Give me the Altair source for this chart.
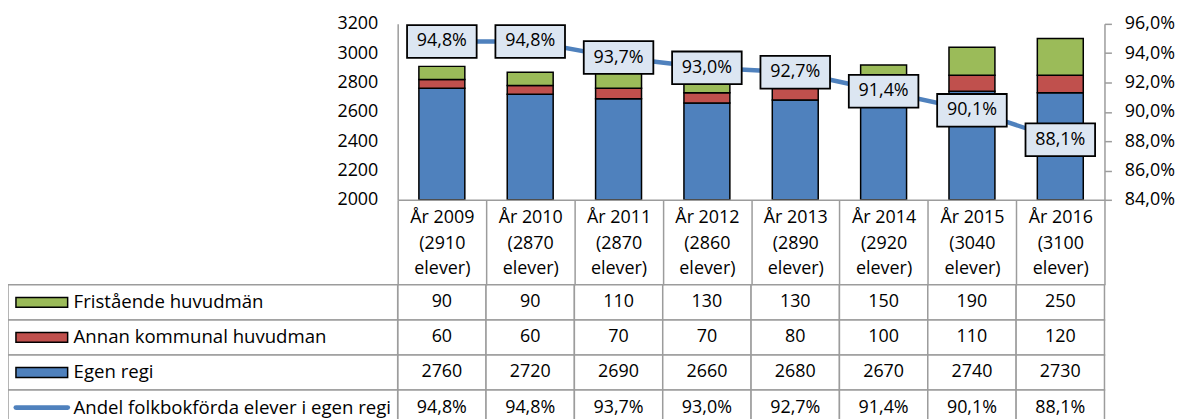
import altair as alt
import pandas as pd

# ---------------- data ----------------
years = ["År 2009", "År 2010", "År 2011", "År 2012", "År 2013", "År 2014", "År 2015", "År 2016"]
fristaende = [90, 90, 110, 130, 130, 150, 190, 250]
annan = [60, 60, 70, 70, 80, 100, 110, 120]
egen = [2760, 2720, 2690, 2660, 2680, 2670, 2740, 2730]
andel = [94.8, 94.8, 93.7, 93.0, 92.7, 91.4, 90.1, 88.1]

NAME_FRI = "Fristående huvudmän"
NAME_ANN = "Annan kommunal huvudman"
NAME_EGEN = "Egen regi"
NAME_ANDEL = "Andel folkbokförda elever i egen regi"
rows = [NAME_FRI, NAME_ANN, NAME_EGEN, NAME_ANDEL]

left_ticks = [2000, 2200, 2400, 2600, 2800, 3000, 3200]
right_ticks = [84, 86, 88, 90, 92, 94, 96]

# ---------------- styles ----------------
FONT = "Open Sans"
FS = 18
FS_LEG = 18.7
GRID = "#9C9C9C"
GREEN = "#9BBB59"
RED = "#C0504D"
BLUE = "#4F81BD"
LINEBLUE = "#4F81BD"
BOXFILL = "#DCE6F2"

W, H = 711, 177
HEADER_H = 85.5
ROW_H = 35.3
table_top = H + HEADER_H
table_bottom = table_top + 4 * ROW_H

totals = [f + a + e for f, a, e in zip(fristaende, annan, egen)]
cats = [f"{y}|({t}|elever)" for y, t in zip(years, totals)]


def pct_txt(v):
    return f"{v:.1f}".replace(".", ",") + "%"


bar_records = []
for i, c in enumerate(cats):
    for name, vals, o in [(NAME_EGEN, egen, 0), (NAME_ANN, annan, 1), (NAME_FRI, fristaende, 2)]:
        bar_records.append({"cat": c, "series": name, "value": vals[i], "ord": o})
bar_df = pd.DataFrame(bar_records)

line_df = pd.DataFrame({"cat": cats, "pct": andel, "label": [pct_txt(v) for v in andel]})

table_records = []
for i, c in enumerate(cats):
    for name, vals in [(NAME_FRI, fristaende), (NAME_ANN, annan), (NAME_EGEN, egen)]:
        table_records.append({"cat": c, "series": name, "text": str(vals[i])})
    table_records.append({"cat": c, "series": NAME_ANDEL, "text": pct_txt(andel[i])})
table_df = pd.DataFrame(table_records)
legend_df = pd.DataFrame({"series": rows})

# ---------------- encodings ----------------
x_axis = alt.Axis(
    title=None,
    labelExpr="split(datum.label, '|')",
    labelAngle=0,
    labelFontSize=FS,
    labelColor="black",
    labelLineHeight=26,
    labelBaseline="middle",
    labelOverlap=False,
    ticks=True,
    tickBand="extent",
    tickSize=HEADER_H,
    tickColor=GRID,
    tickWidth=1.5,
    labelPadding=17.5 - HEADER_H,
    domainColor=GRID,
    domainWidth=1.5,
)
X = alt.X("cat:N", sort=cats, scale=alt.Scale(domain=cats, paddingInner=0, paddingOuter=0), axis=x_axis)

y_left = alt.Y(
    "value:Q",
    stack="zero",
    scale=alt.Scale(domain=[2000, 3200], clamp=True, nice=False, zero=False),
    axis=alt.Axis(orient="left", title=None, values=left_ticks, format="d", ticks=False,
                  labelPadding=20, grid=False, domainColor=GRID, domainWidth=1.5,
                  labelFontSize=FS, labelColor="black"),
)
y_right = alt.Y(
    "pct:Q",
    scale=alt.Scale(domain=[84, 96], nice=False, zero=False),
    axis=alt.Axis(orient="right", title=None, values=right_ticks,
                  labelExpr="replace(format(datum.value, '.1f'), '.', ',') + '%'",
                  tickSize=7, tickColor=GRID, tickWidth=1.5, labelPadding=13,
                  domainColor=GRID, domainWidth=1.5, grid=False,
                  labelFontSize=FS, labelColor="black"),
)
y_row = alt.Y("series:N", sort=rows,
              scale=alt.Scale(domain=rows, range=[table_top, table_bottom], paddingInner=0, paddingOuter=0),
              axis=None)
C = alt.Color("series:N", scale=alt.Scale(domain=rows, range=[GREEN, RED, BLUE, LINEBLUE]), legend=None)

BOX = "M-1,-0.47L1,-0.47L1,0.47L-1,0.47Z"
SW = "M-1,-0.19L1,-0.19L1,0.19L-1,0.19Z"
LN = "M-1,0L1,0"

# ---------------- table layer ----------------
cells = alt.Chart(table_df).mark_rect(fill="white", stroke=GRID, strokeWidth=1.5).encode(x=X, y=y_row)
leg_cells = alt.Chart(legend_df).mark_rect(fill="white", stroke=GRID, strokeWidth=1.5).encode(
    x=alt.value(-392), x2=alt.value(0), y=y_row)
cell_text = alt.Chart(table_df).mark_text(fontSize=FS, color="black").encode(x=X, y=y_row, text="text:N")
leg_text = alt.Chart(legend_df).mark_text(fontSize=FS_LEG, align="left", color="black").encode(
    x=alt.value(-326), y=y_row, text="series:N")
sw_rect = alt.Chart(legend_df.iloc[:3]).mark_point(
    shape=SW, size=2704, filled=True, stroke="black", strokeWidth=1.5, opacity=1).encode(
    x=alt.value(-358), y=y_row, color=C)
sw_line = alt.Chart(legend_df.iloc[3:]).mark_point(
    shape=LN, size=2704, filled=False, strokeWidth=5, strokeCap="round", opacity=1).encode(
    x=alt.value(-358), y=y_row, color=C)
table_layer = alt.layer(cells, leg_cells, cell_text, leg_text, sw_rect, sw_line)

# ---------------- bars ----------------
bars = alt.Chart(bar_df).mark_bar(width=alt.RelativeBandSize(0.52), stroke="black", strokeWidth=1.5).encode(
    x=X, y=y_left, color=C, order=alt.Order("ord:Q", sort="ascending"))

# ---------------- line + labels ----------------
line = alt.Chart(line_df).mark_line(color=LINEBLUE, strokeWidth=4.5).encode(x=X, y=y_right)
boxes = alt.Chart(line_df).mark_point(
    shape=BOX, size=4900, filled=True, fill=BOXFILL, stroke="black", strokeWidth=1.8,
    opacity=1, fillOpacity=1, strokeOpacity=1).encode(x=X, y=y_right)
box_text = alt.Chart(line_df).mark_text(fontSize=FS, color="black").encode(x=X, y=y_right, text="label:N")
pct_layer = alt.layer(line, boxes, box_text)

chart = (
    alt.layer(table_layer, bars, pct_layer)
    .resolve_scale(y="independent")
    .properties(
        width=W,
        height=H,
        padding={"left": 392, "top": 14.7, "right": 80, "bottom": 230},
        autosize=alt.AutoSizeParams(type="none"),
        background="white",
    )
    .configure(font=FONT)
    .configure_view(stroke="transparent")
)

chart.save("out.html", embed_options={"renderer": "svg", "actions": False})
